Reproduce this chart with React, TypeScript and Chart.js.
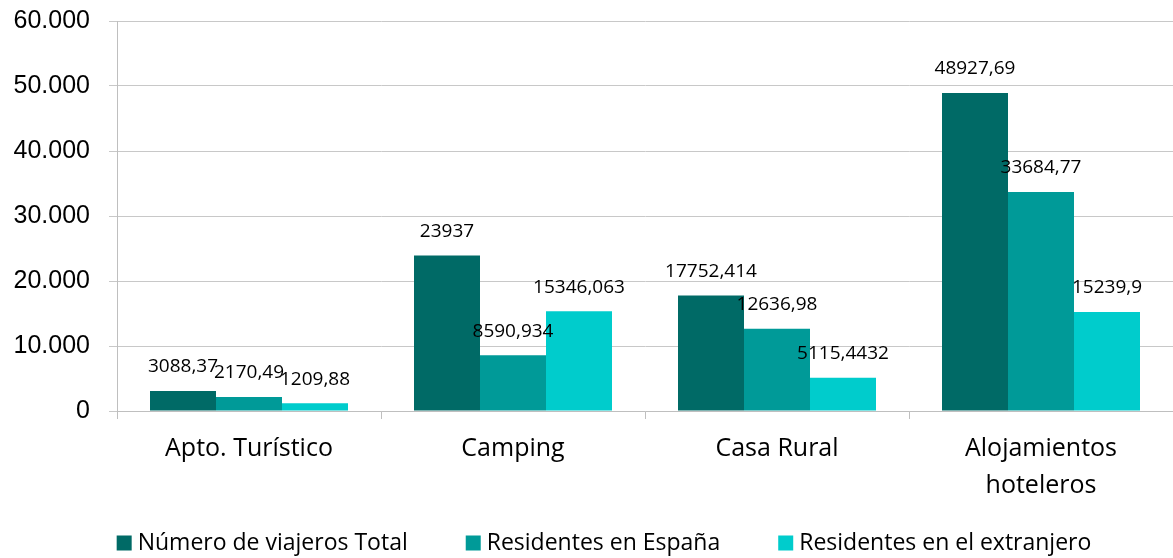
import React, { useEffect, useRef } from "react";
import { Chart, registerables } from "chart.js";

Chart.register(...registerables);

const categories: (string | string[])[] = [
  "Apto. Turístico",
  "Camping",
  "Casa Rural",
  ["Alojamientos", "hoteleros"],
];
const seriesNames = [
  "Número de viajeros Total",
  "Residentes en España",
  "Residentes en el extranjero",
];
const totalValues = [3088.37, 23937, 17752.414, 48927.69];
const spainValues = [2170.49, 8590.934, 12636.98, 33684.77];
const abroadValues = [1209.88, 15346.063, 5115.4432, 15239.9];
const seriesColors = ["#006A66", "#009A98", "#00CCCC"];
const yTicks = [0, 10000, 20000, 30000, 40000, 50000, 60000];

const LABEL_FONT = "Open Sans";
const AXIS_FONT = "Liberation Sans";

function fmtThousands(v: number): string {
  const s = Math.round(v).toString();
  return s.replace(/\B(?=(\d{3})+(?!\d))/g, ".");
}
function fmtDecimal(v: number): string {
  return String(v).replace(".", ",");
}

const dataLabelPlugin = {
  id: "dataLabels",
  afterDatasetsDraw(chart: any) {
    const ctx = chart.ctx;
    ctx.save();
    ctx.font = `19px "${LABEL_FONT}"`;
    ctx.fillStyle = "#000000";
    ctx.textAlign = "center";
    ctx.textBaseline = "middle";
    chart.data.datasets.forEach((ds: any, di: number) => {
      const meta = chart.getDatasetMeta(di);
      meta.data.forEach((bar: any, i: number) => {
        ctx.fillText(fmtDecimal(ds.data[i]), bar.x, bar.y - 24);
      });
    });
    ctx.restore();
  },
};

const legendPlugin = {
  id: "customLegend",
  afterDraw(chart: any) {
    const ctx = chart.ctx;
    ctx.save();
    ctx.font = `23px "${LABEL_FONT}"`;
    ctx.textBaseline = "middle";
    ctx.textAlign = "left";
    const box = 15;
    const gapBoxText = 6;
    const gapItems = 58;
    const items = chart.data.datasets.map((ds: any) => ({
      text: ds.label,
      color: ds.backgroundColor,
      w: box + gapBoxText + ctx.measureText(ds.label).width,
    }));
    const total =
      items.reduce((a: number, it: any) => a + it.w, 0) +
      gapItems * (items.length - 1);
    let x = 604 - total / 2;
    const cy = 543;
    items.forEach((it: any) => {
      ctx.fillStyle = it.color;
      ctx.fillRect(x, cy - box / 2, box, box);
      ctx.fillStyle = "#000000";
      ctx.fillText(it.text, x + box + gapBoxText, cy);
      x += it.w + gapItems;
    });
    ctx.restore();
  },
};

export default function App() {
  const ref = useRef<HTMLCanvasElement | null>(null);

  useEffect(() => {
    if (!ref.current) return;
    const chart = new Chart(ref.current, {
      type: "bar",
      data: {
        labels: categories,
        datasets: [
          { label: seriesNames[0], data: totalValues, backgroundColor: seriesColors[0] },
          { label: seriesNames[1], data: spainValues, backgroundColor: seriesColors[1] },
          { label: seriesNames[2], data: abroadValues, backgroundColor: seriesColors[2] },
        ],
      },
      options: {
        animation: false,
        responsive: false,
        devicePixelRatio: 1,
        layout: { padding: { top: 21, right: 0, bottom: 40, left: 0 } },
        datasets: {
          bar: { categoryPercentage: 0.75, barPercentage: 1 },
        },
        plugins: {
          legend: { display: false },
          tooltip: { enabled: false },
        },
        scales: {
          x: {
            grid: {
              drawOnChartArea: false,
              drawTicks: true,
              tickLength: 8,
              color: "#BFBFBF",
              offset: true,
            },
            border: { color: "#BFBFBF", width: 1 },
            ticks: {
              color: "#000000",
              font: { family: LABEL_FONT, size: 25, lineHeight: 1.45 },
              padding: 12,
              maxRotation: 0,
              autoSkip: false,
            },
            afterFit(scale: any) {
              scale.height = 107;
              scale.paddingLeft = 0;
              scale.paddingRight = 0;
            },
          },
          y: {
            min: 0,
            max: 60000,
            afterBuildTicks(scale: any) {
              scale.ticks = yTicks.map((v) => ({ value: v }));
            },
            grid: {
              color: "#C8C8C8",
              drawTicks: true,
              tickLength: 8,
            },
            border: { color: "#BFBFBF", width: 1 },
            ticks: {
              color: "#000000",
              font: { family: AXIS_FONT, size: 25 },
              padding: 19,
              callback: (v: any) => fmtThousands(Number(v)),
            },
            afterFit(scale: any) {
              scale.width = 117;
              scale.paddingTop = 0;
              scale.paddingBottom = 0;
            },
          },
        },
      },
      plugins: [dataLabelPlugin, legendPlugin],
    });
    return () => chart.destroy();
  }, []);

  return (
    <div style={{ position: "absolute", left: 0, top: 0, width: 1173, height: 558, background: "#ffffff" }}>
      <canvas ref={ref} width={1173} height={558} />
    </div>
  );
}
